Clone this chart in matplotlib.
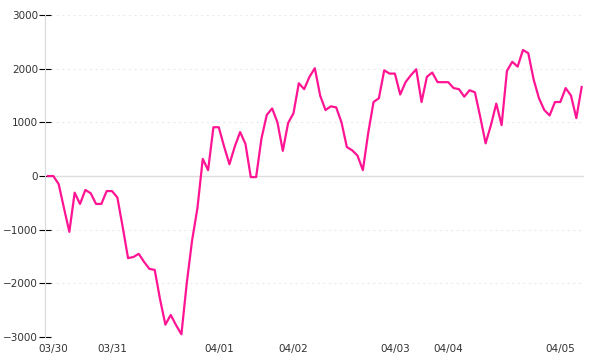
import numpy as np
import matplotlib
matplotlib.use("Agg")
import matplotlib.pyplot as plt

# values, one per sample
values = [0, 0, -150, -600, -1040, -310, -520, -260, -320, -520,
          -520, -280, -280, -400, -950, -1530, -1510, -1450, -1600, -1730,
          -1750, -2300, -2770, -2590, -2780, -2950, -2000, -1200, -600, 320,
          110, 910, 910, 550, 220, 550, 820, 600, -20, -20,
          700, 1140, 1260, 1000, 470, 990, 1170, 1730, 1620, 1850,
          2010, 1500, 1230, 1300, 1280, 1000, 540, 480, 380, 110,
          800, 1380, 1450, 1970, 1910, 1910, 1520, 1750, 1880, 1990,
          1380, 1850, 1930, 1750, 1750, 1750, 1640, 1620, 1480, 1600,
          1560, 1100, 610, 950, 1350, 950, 1960, 2130, 2040, 2350,
          2290, 1800, 1450, 1230, 1130, 1380, 1380, 1640, 1500, 1080,
          1660]

date_pos = [1, 12, 32, 46, 65, 75, 96]
date_labels = ["03/30", "03/31", "04/01", "04/02", "04/03", "04/04", "04/05"]
y_ticks = [-3000, -2000, -1000, 0, 1000, 2000, 3000]

fig = plt.figure(figsize=(6, 3.6), dpi=100)
ax = fig.add_axes([0.075, 0.064, 0.898, 0.894])

x = np.arange(len(values))
ax.plot(x, values, color="#ff1493", lw=1.6, zorder=3)

ax.set_xlim(-0.56, 100.4)
ax.set_ylim(-3000, 3000)

for v in y_ticks:
    if v == 0:
        ax.axhline(0, color="#dddddd", lw=1, zorder=1)
    else:
        ax.axhline(v, color="#ebebeb", lw=0.8, ls=(0, (2, 3)), zorder=1)

ax.set_yticks(y_ticks)
ax.set_xticks(date_pos)
ax.set_xticklabels(date_labels)

for s in ["top", "right", "bottom"]:
    ax.spines[s].set_visible(False)
ax.spines["left"].set_color("#d9d9d9")

ax.tick_params(axis="y", direction="inout", length=8, width=0.8, color="black",
               labelsize=7.5, labelcolor="#333333", pad=1)
ax.tick_params(axis="x", length=0, labelsize=7.5, labelcolor="#333333", pad=5)

fig.savefig("out.png", dpi=100)
